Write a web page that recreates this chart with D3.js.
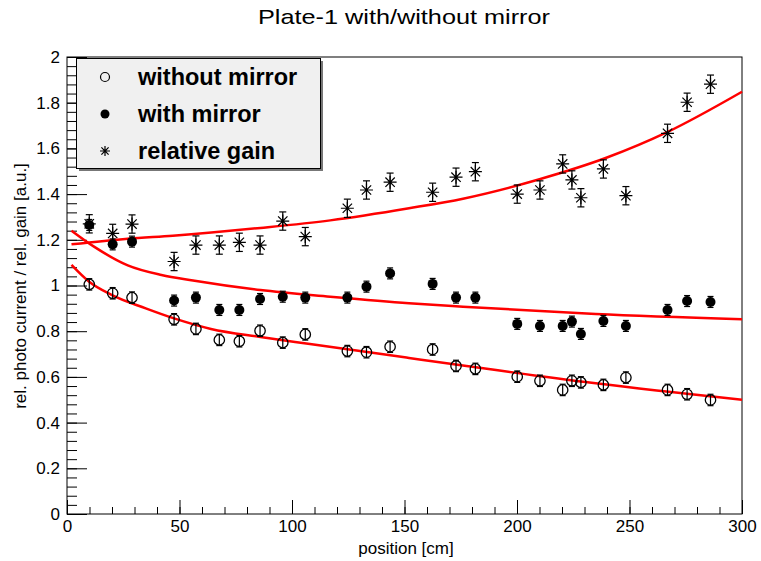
<!DOCTYPE html>
<html>
<head>
<meta charset="utf-8">
<script src="https://cdn.jsdelivr.net/npm/d3@7"></script>
<style>
  body { margin: 0; background: #fff; }
  svg { display: block; font-family: "Liberation Sans", Arial, Helvetica, sans-serif; }
</style>
</head>
<body>
<script>
// measured points (position in cm)
var positions = [9.9, 20.3, 28.9, 47.6, 57.3, 67.7, 76.6, 85.8, 95.9, 105.9, 124.6, 133.1, 143.6,
                 162.5, 172.9, 181.5, 200.1, 210.2, 220.3, 224.4, 228.4, 238.4, 248.4, 266.9, 275.6, 286.0];
var withoutMirror = [1.005, 0.966, 0.947, 0.852, 0.81, 0.762, 0.756, 0.802, 0.75, 0.786, 0.713, 0.708, 0.732,
                     0.72, 0.648, 0.635, 0.601, 0.583, 0.543, 0.583, 0.576, 0.565, 0.597, 0.543, 0.524, 0.499];
var withMirror = [1.265, 1.18, 1.192, 0.934, 0.947, 0.893, 0.893, 0.941, 0.951, 0.947, 0.947, 0.995, 1.053,
                  1.007, 0.947, 0.947, 0.832, 0.823, 0.823, 0.842, 0.788, 0.845, 0.823, 0.893, 0.932, 0.928];
var relativeGain = [1.27, 1.228, 1.269, 1.105, 1.177, 1.177, 1.189, 1.177, 1.282, 1.214, 1.338, 1.418, 1.452,
                    1.408, 1.474, 1.498, 1.40, 1.418, 1.532, 1.462, 1.384, 1.51, 1.393, 1.666, 1.802, 1.881];
var errWithout = 0.025, errWith = 0.024, errGain = 0.04;

// fit curves
var fitWithoutX = [2, 10, 20, 35, 47.6, 64, 86, 108, 152, 176, 235, 300];
var fitWithoutY = [1.09, 1.015, 0.958, 0.9, 0.856, 0.81, 0.775, 0.744, 0.683, 0.65, 0.572, 0.5];
var fitWithX = [2, 12, 27, 42, 56, 86, 117, 152, 176, 235, 300];
var fitWithY = [1.24, 1.17, 1.088, 1.046, 1.022, 0.98, 0.951, 0.922, 0.907, 0.875, 0.852];
var fitGainX = [2, 27, 47, 86, 117, 152, 176, 210, 240, 266.5, 300];
var fitGainY = [1.18, 1.205, 1.218, 1.252, 1.285, 1.338, 1.38, 1.465, 1.56, 1.67, 1.848];

var xMajor = [0, 50, 100, 150, 200, 250, 300];
var xMinor = d3.range(0, 301, 10);
var yMajor = [0, 0.2, 0.4, 0.6, 0.8, 1, 1.2, 1.4, 1.6, 1.8, 2];
var yMinor = d3.range(0, 2.001, 0.04);
var legendLabels = ["without mirror", "with mirror", "relative gain"];

var width = 761, height = 561;
var fLeft = 67, fRight = 742, fTop = 57, fBottom = 514;

var svg = d3.select("body").append("svg")
  .attr("width", width)
  .attr("height", height);

var x = d3.scaleLinear().domain([0, 300]).range([fLeft, fRight]);
var y = d3.scaleLinear().domain([0, 2]).range([fBottom, fTop]);

// title (ROOT's font is a bit wider than Liberation, so stretch the glyphs)
svg.append("text")
  .attr("x", 404).attr("y", 24)
  .attr("text-anchor", "middle")
  .style("font-size", "21px")
  .attr("textLength", 292)
  .attr("lengthAdjust", "spacingAndGlyphs")
  .text("Plate-1 with/without mirror");

// axes (ticks point inwards, like ROOT)
var fmt = function(d){ return d3.format("~g")(d); };
svg.append("g").attr("transform", "translate(0," + fBottom + ")")
  .call(d3.axisBottom(x).tickValues(xMinor).tickSize(-7).tickFormat(""));
svg.append("g").attr("class", "xax").attr("transform", "translate(0," + fBottom + ")")
  .call(d3.axisBottom(x).tickValues(xMajor).tickSize(-14).tickPadding(5).tickFormat(fmt));
svg.append("g").attr("transform", "translate(" + fLeft + ",0)")
  .call(d3.axisLeft(y).tickValues(yMinor).tickSize(-10).tickFormat(""));
svg.append("g").attr("class", "yax").attr("transform", "translate(" + fLeft + ",0)")
  .call(d3.axisLeft(y).tickValues(yMajor).tickSize(-20).tickPadding(7).tickFormat(fmt));
svg.selectAll(".domain").remove();
svg.selectAll(".tick line").attr("stroke", "#000");
svg.selectAll(".xax text, .yax text")
  .style("font-size", "17px")
  .style("font-family", "'Liberation Sans', Arial, sans-serif")
  .attr("fill", "#000");
svg.selectAll(".xax text").attr("dy", "0.75em");

svg.append("rect")
  .attr("x", fLeft).attr("y", fTop)
  .attr("width", fRight - fLeft).attr("height", fBottom - fTop)
  .attr("fill", "none").attr("stroke", "#000").attr("stroke-width", 1);

// axis titles
svg.append("text")
  .attr("x", 406).attr("y", 554)
  .attr("text-anchor", "middle")
  .style("font-size", "17px")
  .text("position [cm]");
svg.append("text")
  .attr("transform", "translate(26,286) rotate(-90)")
  .attr("text-anchor", "middle")
  .style("font-size", "17px")
  .text("rel. photo current / rel. gain [a.u.]");

// fits
function drawFit(xs, ys) {
  var pts = xs.map(function(d, i){ return [d, ys[i]]; });
  svg.append("path")
    .datum(pts)
    .attr("fill", "none")
    .attr("stroke", "#ff0000")
    .attr("stroke-width", 2.5)
    .attr("d", d3.line().x(function(d){ return x(d[0]); }).y(function(d){ return y(d[1]); })
      .curve(d3.curveMonotoneX));
}
drawFit(fitWithoutX, fitWithoutY);
drawFit(fitWithX, fitWithY);
drawFit(fitGainX, fitGainY);

// error bars
function drawErrors(vals, err, cap) {
  var g = svg.append("g").attr("stroke", "#000").attr("stroke-width", 1.2);
  vals.map(function(v, i){
    var px = x(positions[i]);
    g.append("line").attr("x1", px).attr("x2", px).attr("y1", y(v - err)).attr("y2", y(v + err));
    g.append("line").attr("x1", px - cap).attr("x2", px + cap).attr("y1", y(v - err)).attr("y2", y(v - err));
    g.append("line").attr("x1", px - cap).attr("x2", px + cap).attr("y1", y(v + err)).attr("y2", y(v + err));
  });
}

function star(g, cx, cy, r) {
  var d = r * 0.72;
  g.append("path")
    .attr("d", "M" + (cx - r) + "," + cy + "H" + (cx + r) +
               "M" + cx + "," + (cy - r) + "V" + (cy + r) +
               "M" + (cx - d) + "," + (cy - d) + "L" + (cx + d) + "," + (cy + d) +
               "M" + (cx - d) + "," + (cy + d) + "L" + (cx + d) + "," + (cy - d))
    .attr("stroke", "#000").attr("stroke-width", 1.2).attr("fill", "none");
}

drawErrors(withoutMirror, errWithout, 3);
svg.append("g").selectAll("circle")
  .data(withoutMirror).enter().append("circle")
  .attr("cx", function(d, i){ return x(positions[i]); })
  .attr("cy", function(d){ return y(d); })
  .attr("r", 5.2)
  .attr("fill", "none").attr("stroke", "#000").attr("stroke-width", 1.3);

drawErrors(withMirror, errWith, 3);
svg.append("g").selectAll("circle")
  .data(withMirror).enter().append("circle")
  .attr("cx", function(d, i){ return x(positions[i]); })
  .attr("cy", function(d){ return y(d); })
  .attr("r", 5)
  .attr("fill", "#000");

drawErrors(relativeGain, errGain, 3.5);
var sg = svg.append("g");
relativeGain.map(function(v, i){ star(sg, x(positions[i]), y(v), 6.5); });

// legend
svg.append("rect")
  .attr("x", 79).attr("y", 61).attr("width", 244).attr("height", 110)
  .attr("fill", "#777");
svg.append("rect")
  .attr("x", 76.5).attr("y", 58.5).attr("width", 244).attr("height", 110)
  .attr("fill", "#f0f0f0").attr("stroke", "#000").attr("stroke-width", 1);

var rowY = [77, 114, 151];
svg.append("circle").attr("cx", 105).attr("cy", rowY[0]).attr("r", 4.5)
  .attr("fill", "none").attr("stroke", "#000").attr("stroke-width", 1.2);
svg.append("circle").attr("cx", 105).attr("cy", rowY[1]).attr("r", 4.5).attr("fill", "#000");
star(svg, 105, rowY[2], 5);

svg.append("g").selectAll("text")
  .data(legendLabels).enter().append("text")
  .attr("x", 138)
  .attr("y", function(d, i){ return rowY[i] + 8; })
  .style("font-size", "23.5px")
  .style("font-weight", "bold")
  .text(function(d){ return d; });
</script>
</body>
</html>
